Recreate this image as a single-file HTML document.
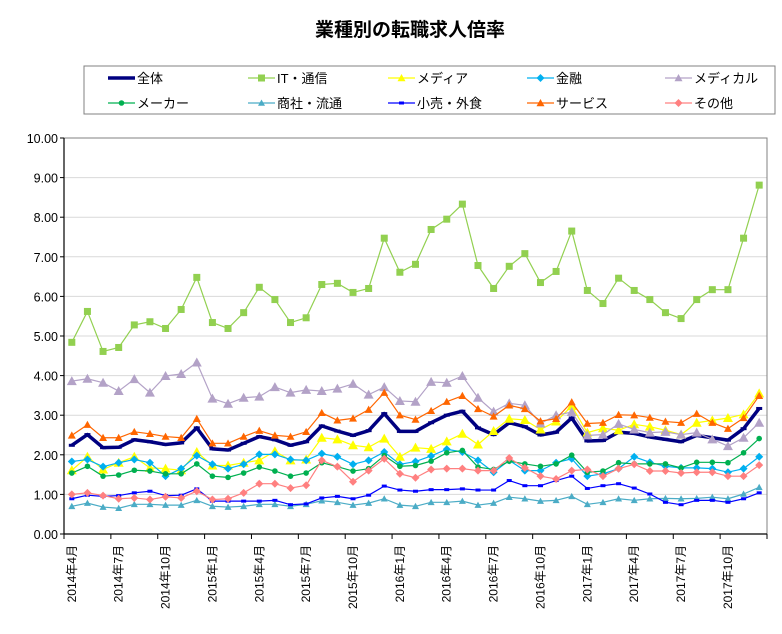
<!DOCTYPE html>
<html><head><meta charset="utf-8">
<style>
body{margin:0;background:#fff;}
svg text{font-family:"Liberation Sans","Noto Sans CJK JP",sans-serif;}
</style></head>
<body>
<svg id="chart" width="782" height="629" xmlns="http://www.w3.org/2000/svg">
<rect width="782" height="629" fill="#fff"/>
<text x="410" y="36" text-anchor="middle" font-size="19" font-weight="bold">業種別の転職求人倍率</text>
<g id="grid"></g>
<g id="axes"></g>
<g id="series"></g>
<g id="legend"></g>
</svg>
<script>
const categories = (function(){const a=[];let y=2014,m=4;for(let i=0;i<45;i++){a.push(y+'年'+m+'月');m++;if(m>12){m=1;y++;}}return a;})();
const yTicks = [0,1,2,3,4,5,6,7,8,9,10];
const seriesNames = ['全体','IT・通信','メディア','金融','メディカル','メーカー','商社・流通','小売・外食','サービス','その他'];
const vAll = [2.24,2.51,2.18,2.19,2.38,2.33,2.26,2.30,2.68,2.15,2.12,2.29,2.46,2.38,2.24,2.33,2.73,2.60,2.49,2.61,3.04,2.59,2.59,2.81,3.00,3.10,2.68,2.51,2.81,2.71,2.50,2.57,2.93,2.35,2.36,2.57,2.54,2.45,2.39,2.33,2.49,2.43,2.37,2.66,3.17];
const vIT = [4.84,5.62,4.61,4.71,5.28,5.36,5.19,5.67,6.48,5.34,5.19,5.59,6.23,5.92,5.34,5.46,6.30,6.33,6.10,6.20,7.47,6.61,6.81,7.69,7.95,8.33,6.78,6.20,6.76,7.08,6.35,6.63,7.65,6.15,5.82,6.46,6.15,5.92,5.59,5.44,5.92,6.17,6.17,7.47,8.81];
const vMedia = [1.61,1.95,1.63,1.80,1.95,1.67,1.65,1.61,2.07,1.73,1.73,1.80,1.86,2.09,1.86,1.88,2.43,2.39,2.24,2.19,2.41,1.95,2.18,2.15,2.34,2.53,2.26,2.60,2.91,2.88,2.64,2.84,3.23,2.56,2.67,2.62,2.77,2.71,2.62,2.51,2.81,2.87,2.93,3.02,3.55];
const vFin = [1.83,1.88,1.70,1.80,1.88,1.80,1.46,1.65,1.98,1.76,1.65,1.76,2.01,2.01,1.88,1.86,2.03,1.95,1.76,1.86,2.07,1.76,1.83,1.97,2.14,2.07,1.86,1.56,1.86,1.60,1.60,1.80,1.90,1.46,1.52,1.65,1.95,1.81,1.71,1.67,1.67,1.65,1.56,1.65,1.95];
const vMed = [3.86,3.92,3.82,3.61,3.91,3.57,3.99,4.04,4.33,3.42,3.29,3.44,3.47,3.71,3.57,3.64,3.61,3.67,3.79,3.52,3.71,3.36,3.34,3.84,3.82,3.99,3.44,3.09,3.30,3.25,2.79,3.00,3.08,2.49,2.51,2.78,2.64,2.56,2.58,2.51,2.56,2.39,2.22,2.43,2.81];
const vMaker = [1.54,1.71,1.46,1.49,1.61,1.59,1.52,1.52,1.77,1.46,1.43,1.54,1.69,1.59,1.46,1.54,1.80,1.70,1.59,1.65,1.98,1.71,1.73,1.84,2.05,2.11,1.69,1.63,1.84,1.77,1.71,1.77,1.99,1.56,1.59,1.80,1.77,1.77,1.77,1.67,1.81,1.81,1.80,2.05,2.41];
const vTrade = [0.70,0.78,0.68,0.65,0.75,0.75,0.73,0.73,0.85,0.70,0.68,0.70,0.75,0.75,0.70,0.75,0.84,0.80,0.73,0.78,0.89,0.73,0.70,0.80,0.80,0.83,0.73,0.78,0.93,0.89,0.83,0.85,0.95,0.75,0.80,0.89,0.85,0.89,0.90,0.89,0.90,0.93,0.89,1.01,1.18];
const vRetail = [0.89,0.98,0.95,0.97,1.04,1.08,0.97,0.98,1.14,0.83,0.83,0.83,0.83,0.85,0.74,0.76,0.91,0.95,0.89,0.98,1.21,1.11,1.08,1.12,1.12,1.14,1.11,1.11,1.35,1.22,1.22,1.35,1.46,1.15,1.22,1.27,1.16,1.01,0.80,0.74,0.85,0.85,0.80,0.89,1.04];
const vServ = [2.49,2.76,2.43,2.43,2.58,2.53,2.46,2.43,2.91,2.29,2.29,2.46,2.61,2.49,2.46,2.58,3.06,2.87,2.92,3.14,3.57,3.00,2.89,3.11,3.34,3.49,3.16,2.97,3.25,3.16,2.85,2.91,3.33,2.79,2.81,3.01,3.00,2.94,2.84,2.81,3.04,2.81,2.66,2.93,3.49];
const vOther = [1.00,1.04,0.97,0.89,0.91,0.87,0.94,0.91,1.08,0.87,0.89,1.04,1.27,1.27,1.16,1.23,1.86,1.70,1.32,1.60,1.90,1.52,1.42,1.63,1.65,1.65,1.60,1.60,1.92,1.67,1.46,1.39,1.60,1.63,1.46,1.65,1.76,1.59,1.59,1.54,1.56,1.56,1.46,1.46,1.74];

const NS='http://www.w3.org/2000/svg';
const L=64,R=767,T=138,B=534;
const xs=i=>L+(R-L)/categories.length*(i+0.5);
const ys=v=>B-(B-T)*v/10;
function mk(tag,attrs,parent){const e=document.createElementNS(NS,tag);for(const k in attrs)e.setAttribute(k,attrs[k]);parent.appendChild(e);return e;}
const grid=document.getElementById('grid'),axes=document.getElementById('axes'),sg=document.getElementById('series'),lg=document.getElementById('legend');

yTicks.forEach(t=>{
  if(t>0){const g=mk('line',{x1:L,x2:R,y1:ys(t),y2:ys(t),stroke:'#d9d9d9','stroke-width':1},grid);
  
  }
  const tk=mk('line',{x1:L-4,x2:L,y1:ys(t),y2:ys(t),stroke:'#000'},axes);
  
  
  const tx=mk('text',{x:L-6,y:ys(t)+5,'text-anchor':'end','font-size':12.5},axes);
  tx.textContent=t.toFixed(2);
  
  
});
const fr=mk('path',{d:`M${L},${T}H${R}V${B}`,fill:'none',stroke:'#808080'},axes);


const ya=mk('line',{x1:L,x2:L,y1:T,y2:B,stroke:'#000','stroke-width':1.2},axes);


const xa=mk('line',{x1:L,x2:R,y1:B,y2:B,stroke:'#000','stroke-width':1.2},axes);


const step=(R-L)/categories.length;
for(let i=0;i<=categories.length;i+=3){
  const x=L+step*i;
  const tk=mk('line',{x1:x,x2:x,y1:B,y2:B+5,stroke:'#000'},axes);
  
  
  if(i<categories.length){
    const cx=xs(i)+4;
    const tx=mk('text',{x:cx,y:545,'text-anchor':'end','font-size':12,transform:`rotate(-90 ${cx} 545)`},axes);
    tx.textContent=categories[i];
    
    
  }
}

const styles=[
 {v:vAll,c:'#000080',w:3.5,m:'dash',s:3},
 {v:vIT,c:'#92d050',w:1.2,m:'square',s:3.5},
 {v:vMedia,c:'#ffff00',w:1.2,m:'tri',s:5},
 {v:vFin,c:'#00b0f0',w:1.2,m:'diamond',s:4},
 {v:vMed,c:'#b3a2c7',w:1.2,m:'tri',s:5},
 {v:vMaker,c:'#00b050',w:1.2,m:'circle',s:2.8},
 {v:vTrade,c:'#4bacc6',w:1.2,m:'tri',s:3.5},
 {v:vRetail,c:'#0000ff',w:1.2,m:'dash',s:2.5},
 {v:vServ,c:'#ff6600',w:1.2,m:'tri',s:4},
 {v:vOther,c:'#ff8080',w:1.2,m:'diamond',s:4}
];
function marker(m,x,y,s,c,parent){
  let e;
  if(m==='square')e=mk('rect',{x:x-s,y:y-s,width:2*s,height:2*s,fill:c},parent);
  else if(m==='tri')e=mk('polygon',{points:`${x},${y-s} ${x-s},${y+s*0.8} ${x+s},${y+s*0.8}`,fill:c},parent);
  else if(m==='diamond')e=mk('polygon',{points:`${x},${y-s} ${x+s},${y} ${x},${y+s} ${x-s},${y}`,fill:c},parent);
  else if(m==='circle')e=mk('circle',{cx:x,cy:y,r:s,fill:c},parent);
  else e=mk('rect',{x:x-s,y:y-1.5,width:2*s,height:3,fill:c},parent);
  return e;
}
styles.forEach((st,k)=>{
  const g=mk('g',{},sg);
  
  
  const pts=st.v.map((v,i)=>xs(i)+','+ys(v)).join(' ');
  const pl=mk('polyline',{points:pts,fill:'none',stroke:st.c,'stroke-width':st.w,'stroke-linejoin':'round'},g);
  
  
  st.v.forEach((v,i)=>{
    const e=marker(st.m,xs(i),ys(v),st.s,st.c,g);
    
    
  });
});

const box=mk('rect',{x:84,y:66,width:691,height:48,fill:'#fff',stroke:'#808080'},lg);


const colX=[108,248,388,527,665];
styles.forEach((st,k)=>{
  const x=colX[k%5],y=k<5?78:103;
  const g=mk('g',{},lg);
  
  
  mk('line',{x1:x,x2:x+27,y1:y,y2:y,stroke:st.c,'stroke-width':st.w},g);
  marker(st.m,x+13.5,y,Math.min(st.s,4),st.c,g);
  const t=mk('text',{x:x+29,y:y+5,'font-size':13},g);
  t.textContent=seriesNames[k];
});
</script>
</body></html>
